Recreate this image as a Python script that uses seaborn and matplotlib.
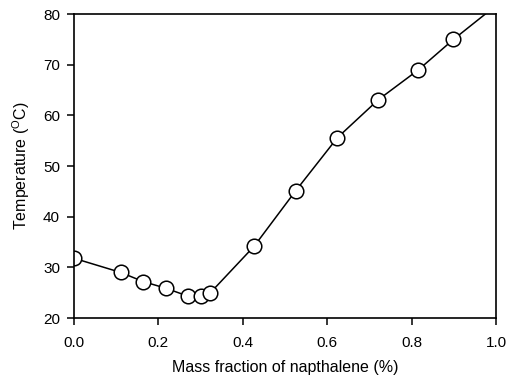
import pandas as pd
import matplotlib
matplotlib.use('Agg')
import matplotlib.pyplot as plt
import seaborn as sns

# mass fraction of napthalene and measured temperature
mass_fraction = [0.0, 0.111, 0.164, 0.217, 0.271, 0.301, 0.322, 0.427, 0.525, 0.624, 0.721, 0.816, 0.899, 1.0]
temperature = [31.8, 29.0, 27.2, 25.9, 24.3, 24.3, 24.9, 34.2, 45.1, 55.6, 63.1, 69.0, 75.0, 81.7]

df = pd.DataFrame({'x': mass_fraction, 'T': temperature})

sns.set_style("ticks")
plt.rcParams['font.family'] = ['Liberation Sans', 'DejaVu Sans']
plt.rcParams['mathtext.fontset'] = 'custom'
plt.rcParams['mathtext.rm'] = 'Liberation Sans'
for k in ['text.color', 'axes.labelcolor', 'xtick.color', 'ytick.color', 'axes.edgecolor']:
    plt.rcParams[k] = 'black'

fig = plt.figure(figsize=(5.12, 3.8), dpi=100)
ax = fig.add_axes([0.1445, 0.163, 0.8245, 0.8])

sns.lineplot(data=df, x='x', y='T', ax=ax, color='black', linewidth=1.1,
             marker='o', markersize=10.5, markerfacecolor='white',
             markeredgecolor='black', markeredgewidth=1.1)

ax.set_xlim(0, 1.0)
ax.set_ylim(20, 80)
ax.set_xticks([0.0, 0.2, 0.4, 0.6, 0.8, 1.0])
ax.set_yticks([20, 30, 40, 50, 60, 70, 80])
ax.set_xticklabels(['0.0', '0.2', '0.4', '0.6', '0.8', '1.0'])
ax.tick_params(axis='both', labelsize=11, width=1.1, length=5, colors='black', pad=5)
ax.tick_params(axis='x', pad=8)
for s in ax.spines.values():
    s.set_linewidth(1.2)

ax.set_xlabel('Mass fraction of napthalene (%)', fontsize=11.5, labelpad=7)
ax.set_ylabel(r'Temperature ($^{\mathrm{O}}$C)', fontsize=11.5, labelpad=8)

fig.savefig('out.png', dpi=100)
